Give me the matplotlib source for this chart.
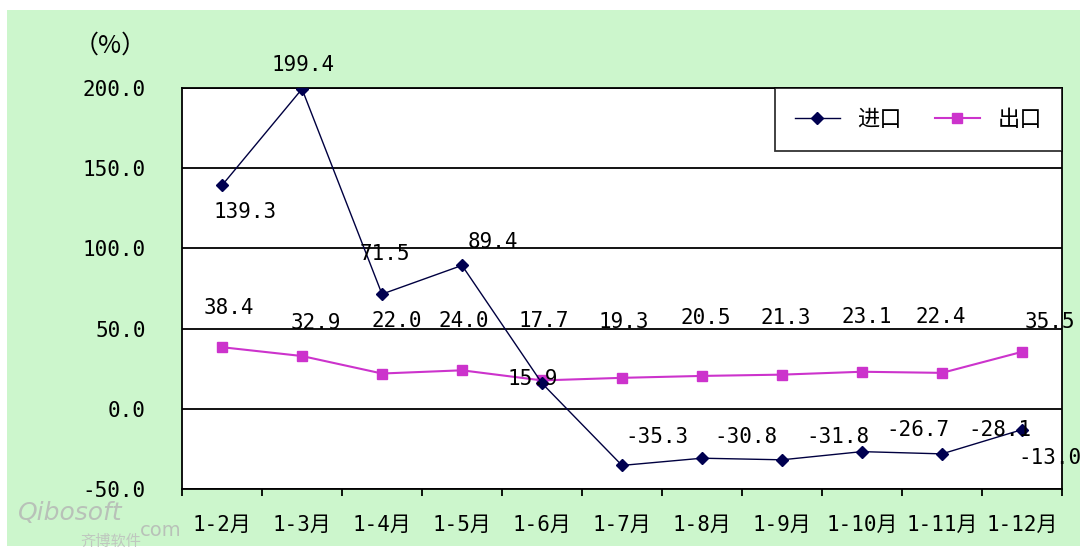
import numpy as np
import matplotlib
matplotlib.use('Agg')
import matplotlib.pyplot as plt
from matplotlib.patches import Rectangle

plt.rcParams['font.family'] = ['DejaVu Sans Mono', 'Noto Sans CJK SC']

months = ['1-2月', '1-3月', '1-4月', '1-5月', '1-6月', '1-7月', '1-8月', '1-9月', '1-10月', '1-11月', '1-12月']
imports = [139.3, 199.4, 71.5, 89.4, 15.9, -35.3, -30.8, -31.8, -26.7, -28.1, -13.0]
exports = [38.4, 32.9, 22.0, 24.0, 17.7, 19.3, 20.5, 21.3, 23.1, 22.4, 35.5]
y_ticks = [-50, 0, 50, 100, 150, 200]

# label offsets in pixels (dx, dy)
imp_off = [(23, -27), (1, 24), (3, 40), (31, 23), (-9, 4), (35, 28),
           (44, 21), (56, 23), (56, 22), (58, 24), (28, -28)]
exp_off = [(7, 39), (14, 33), (15, 53), (2, 49), (2, 59), (2, 56),
           (4, 58), (4, 57), (5, 55), (-1, 56), (28, 30)]

green = '#ccf6cc'
W, H = 1084, 556
fig = plt.figure(figsize=(W / 100, H / 100), dpi=100)
fig.patch.set_facecolor('white')
fig.patches.append(Rectangle((7 / W, 1 - 546 / H), (1080 - 7) / W, (546 - 10) / H,
                             transform=fig.transFigure, facecolor=green,
                             edgecolor='none', zorder=-10))

ax = fig.add_axes([182 / W, 1 - 489 / H, 880 / W, (489 - 88) / H])
ax.set_facecolor('white')

x = np.arange(len(months))
ax.plot(x, imports, color='#000040', lw=1.0, marker='D', ms=6,
        mfc='#000050', mec='#000050', label='进口', zorder=4)
ax.plot(x, exports, color='#cc33cc', lw=1.5, marker='s', ms=7,
        mfc='#cc33cc', mec='#cc33cc', label='出口', zorder=3)

for i in range(len(months)):
    ax.annotate(f'{imports[i]:.1f}', (x[i], imports[i]), xytext=imp_off[i],
                textcoords='offset pixels', ha='center', va='center',
                fontsize=15, color='black', zorder=5)
    ax.annotate(f'{exports[i]:.1f}', (x[i], exports[i]), xytext=exp_off[i],
                textcoords='offset pixels', ha='center', va='center',
                fontsize=15, color='black', zorder=5)

ax.set_xlim(-0.5, len(months) - 0.5)
ax.set_ylim(-50, 200)
ax.set_yticks(y_ticks)
ax.set_yticklabels([f'{v:.1f}' for v in y_ticks], fontsize=15)
ax.yaxis.grid(True, color='black', lw=1.3)
ax.set_axisbelow(True)
ax.tick_params(axis='y', length=0, pad=26, colors='black')

ax.set_xticks(x)
ax.set_xticklabels(months, fontsize=15)
ax.set_xticks(np.arange(-0.5, len(months)), minor=True)
ax.tick_params(axis='x', which='major', length=0, pad=19)
ax.tick_params(axis='x', which='minor', length=5, width=1.3, direction='out')

for s in ax.spines.values():
    s.set_color('black')
    s.set_linewidth(1.3)

fig.text(110 / W, 1 - 46 / H, '（%）', ha='center', va='center', fontsize=18,
         family=['Noto Sans CJK SC'])

leg = ax.legend(loc='upper right', ncol=2, bbox_to_anchor=(1.0, 1.0),
                prop={'family': 'Noto Sans CJK SC', 'size': 16},
                frameon=True, fancybox=False, borderaxespad=0,
                handlelength=2.0, columnspacing=1.5, borderpad=0.9)
leg.get_frame().set_edgecolor('black')
leg.get_frame().set_linewidth(1.3)

# faint watermark
fig.text(18 / W, 1 - 513 / H, 'Qibosoft', fontsize=18, style='italic',
         color='#b4b4b4', alpha=0.8, family=['DejaVu Sans'], va='center')
fig.text(140 / W, 1 - 530 / H, 'com', fontsize=14, color='#b4b4b4',
         alpha=0.8, family=['DejaVu Sans'], va='center', zorder=-5)
fig.text(80 / W, 1 - 541 / H, '齐博软件', fontsize=11, color='#bcbcbc',
         alpha=0.8, family=['Noto Sans CJK SC'], va='center', zorder=-5)

fig.savefig('out.png', dpi=100, facecolor=fig.get_facecolor())
